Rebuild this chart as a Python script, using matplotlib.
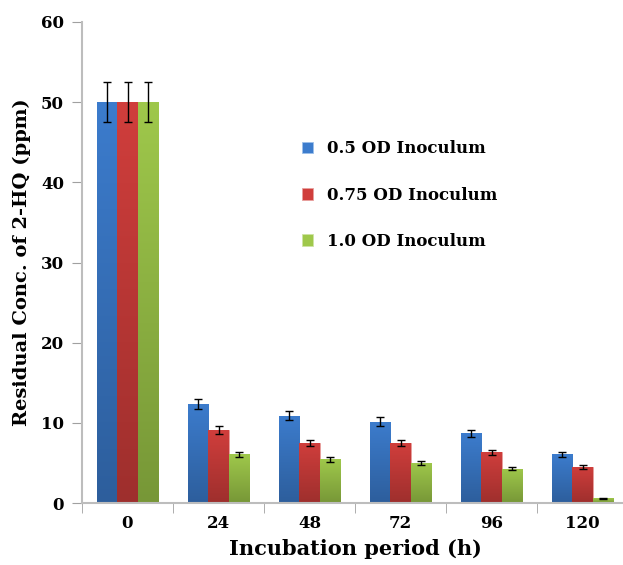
import matplotlib
matplotlib.use("Agg")
import matplotlib.pyplot as plt
import numpy as np
from matplotlib.colors import LinearSegmentedColormap

hours = ["0", "24", "48", "72", "96", "120"]
series = ["0.5 OD Inoculum", "0.75 OD Inoculum", "1.0 OD Inoculum"]
od05 = [50.0, 12.35, 10.9, 10.15, 8.7, 6.1]
od075 = [50.0, 9.1, 7.5, 7.45, 6.3, 4.55]
od10 = [50.0, 6.05, 5.45, 5.0, 4.3, 0.6]
err05 = [2.5, 0.6, 0.6, 0.55, 0.45, 0.3]
err075 = [2.5, 0.45, 0.4, 0.4, 0.3, 0.25]
err10 = [2.5, 0.35, 0.3, 0.3, 0.2, 0.05]

# top colour, bottom colour, edge
colors = [("#3c7ccd", "#2d5e9c", "#9cc0ea"),
          ("#d03e3c", "#9e2f2d", "#e8a09e"),
          ("#9fc84b", "#779737", "#cfe3a5")]

plt.rcParams['font.family'] = ['DejaVu Serif']
plt.rcParams['font.weight'] = 'bold'

fig = plt.figure(figsize=(6.23, 5.65), dpi=100)
ax = fig.add_axes([82 / 623, 62 / 565, 546 / 623, 481 / 565])

x = np.arange(len(hours))
w = 0.22
vals = [od05, od075, od10]
errs = [err05, err075, err10]
handles = []
for i, (v, e, c) in enumerate(zip(vals, errs, colors)):
    pos = x + (i - 1) * w
    bars = ax.bar(pos, v, width=w, color=c[0], edgecolor=c[2], linewidth=0.6,
                  label=series[i], zorder=2)
    cmap = LinearSegmentedColormap.from_list("g%d" % i, [c[1], c[0]])
    grad = np.linspace(0, 1, 256).reshape(-1, 1)
    for b in bars:
        bx, by = b.get_x(), b.get_y()
        bw, bh = b.get_width(), b.get_height()
        im = ax.imshow(grad, cmap=cmap, origin="lower", aspect="auto",
                       extent=[bx, bx + bw, by, by + bh], zorder=2.1)
        im.set_clip_path(b)
    ax.errorbar(pos, v, yerr=e, fmt="none", ecolor="black", elinewidth=1,
                capsize=3, capthick=1, zorder=3)
    handles.append(bars)

ax.set_xlim(-0.5, len(hours) - 0.5)
ax.set_ylim(0, 60)
ax.set_yticks(range(0, 61, 10))
ax.set_xticks(x)
ax.set_xticklabels(hours)
ax.set_xticks(np.arange(-0.5, len(hours), 1), minor=True)
ax.tick_params(axis="x", which="major", length=0, pad=9, labelsize=12)
ax.tick_params(axis="x", which="minor", length=7, color="#a0a0a0", direction="out")
ax.tick_params(axis="y", length=7, color="#a0a0a0", labelsize=12, pad=6)
for s in ["top", "right"]:
    ax.spines[s].set_visible(False)
for s in ["left", "bottom"]:
    ax.spines[s].set_color("#bdbdbd")
    ax.spines[s].set_linewidth(1.5)

ax.set_xlabel("Incubation period (h)", fontsize=15, fontweight="bold", labelpad=5)
ax.set_ylabel("Residual Conc. of 2-HQ (ppm)", fontsize=14, fontweight="bold", labelpad=7)

leg = ax.legend(handles=handles, labels=series, loc="upper left",
                bbox_to_anchor=(0.375, 0.785), frameon=False, fontsize=12,
                handlelength=0.7, handleheight=0.7, labelspacing=1.75,
                handletextpad=0.8)

fig.savefig("out.png", dpi=100)
